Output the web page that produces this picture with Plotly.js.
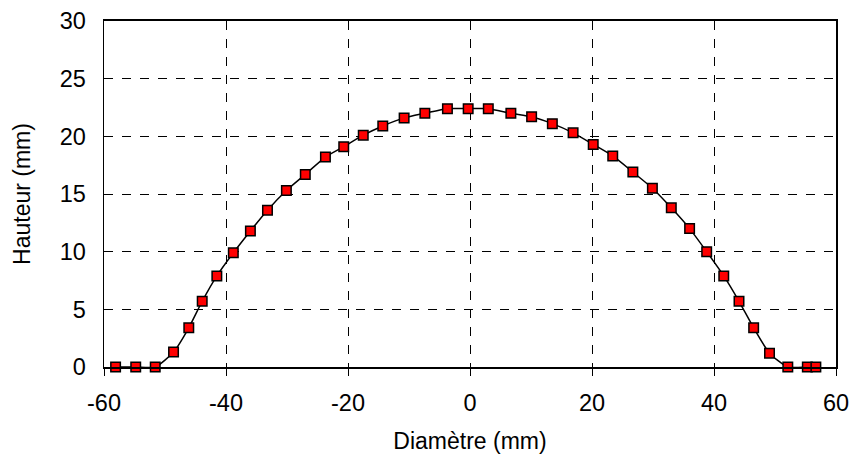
<!DOCTYPE html>
<html>
<head>
<meta charset="utf-8">
<script src="https://cdn.plot.ly/plotly-3.0.1.min.js"></script>
<style>html,body{margin:0;padding:0;background:#fff;}#chart{width:854px;height:461px;}</style>
</head>
<body>
<div id="chart"></div>
<script>
const diametre = [-58.1, -54.8, -51.6, -48.6, -46.1, -43.9, -41.5, -38.8, -36.0, -33.2, -30.1, -27.0, -23.7, -20.7, -17.5, -14.3, -10.8, -7.4, -3.7, -0.3, 3.0, 6.7, 10.1, 13.5, 16.9, 20.2, 23.4, 26.7, 29.9, 33.0, 36.0, 38.8, 41.6, 44.1, 46.5, 49.1, 52.1, 55.3, 56.7];
const hauteur = [0, 0, 0, 1.3, 3.4, 5.7, 7.9, 9.9, 11.8, 13.6, 15.3, 16.7, 18.2, 19.1, 20.1, 20.9, 21.6, 22.0, 22.4, 22.4, 22.4, 22.0, 21.7, 21.1, 20.3, 19.3, 18.3, 16.9, 15.5, 13.8, 12.0, 10.0, 7.9, 5.7, 3.4, 1.2, 0, 0, 0];
const xTicks = [-60, -40, -20, 0, 20, 40, 60];
const yTicks = [0, 5, 10, 15, 20, 25, 30];

const trace = {
  x: diametre, y: hauteur, type: 'scatter', mode: 'lines+markers',
  line: {color: '#000', width: 1.5, shape: 'spline', smoothing: 0.6},
  marker: {symbol: 'square', size: 9.5, color: '#ff0000', line: {color: '#000', width: 1.5}},
  cliponaxis: false, showlegend: false
};
const fam = 'Liberation Sans, Arial, sans-serif';
const layout = {
  width: 854, height: 461,
  margin: {l: 104, r: 18, t: 21, b: 94},
  paper_bgcolor: '#fff', plot_bgcolor: '#fff',
  font: {family: fam, color: '#000'},
  xaxis: {
    range: [-60, 60], tickvals: xTicks, ticktext: xTicks.map(String),
    showgrid: true, gridcolor: '#000', griddash: 'dash', gridwidth: 1,
    zeroline: false, showline: true, linecolor: '#000', linewidth: 2, mirror: true,
    ticks: 'outside', ticklen: 7, tickcolor: '#000', tickwidth: 1,
    ticklabelstandoff: 7,
    tickfont: {size: 23.5, family: fam, color: '#000'},
    title: {text: 'Diamètre (mm)', font: {size: 23, family: fam, color: '#000'}, standoff: 18}
  },
  yaxis: {
    range: [0, 30], tickvals: yTicks, ticktext: yTicks.map(String),
    showgrid: true, gridcolor: '#000', griddash: 'dash', gridwidth: 1,
    zeroline: false, showline: true, linecolor: '#000', linewidth: 1.5, mirror: true,
    ticks: 'inside', ticklen: 6, tickcolor: '#000', tickwidth: 1,
    ticklabelstandoff: 12,
    tickfont: {size: 23.5, family: fam, color: '#000'},
    title: {text: 'Hauteur (mm)', font: {size: 23, family: fam, color: '#000'}, standoff: 22}
  }
};
Plotly.newPlot('chart', [trace], layout, {staticPlot: true});
</script>
</body>
</html>
